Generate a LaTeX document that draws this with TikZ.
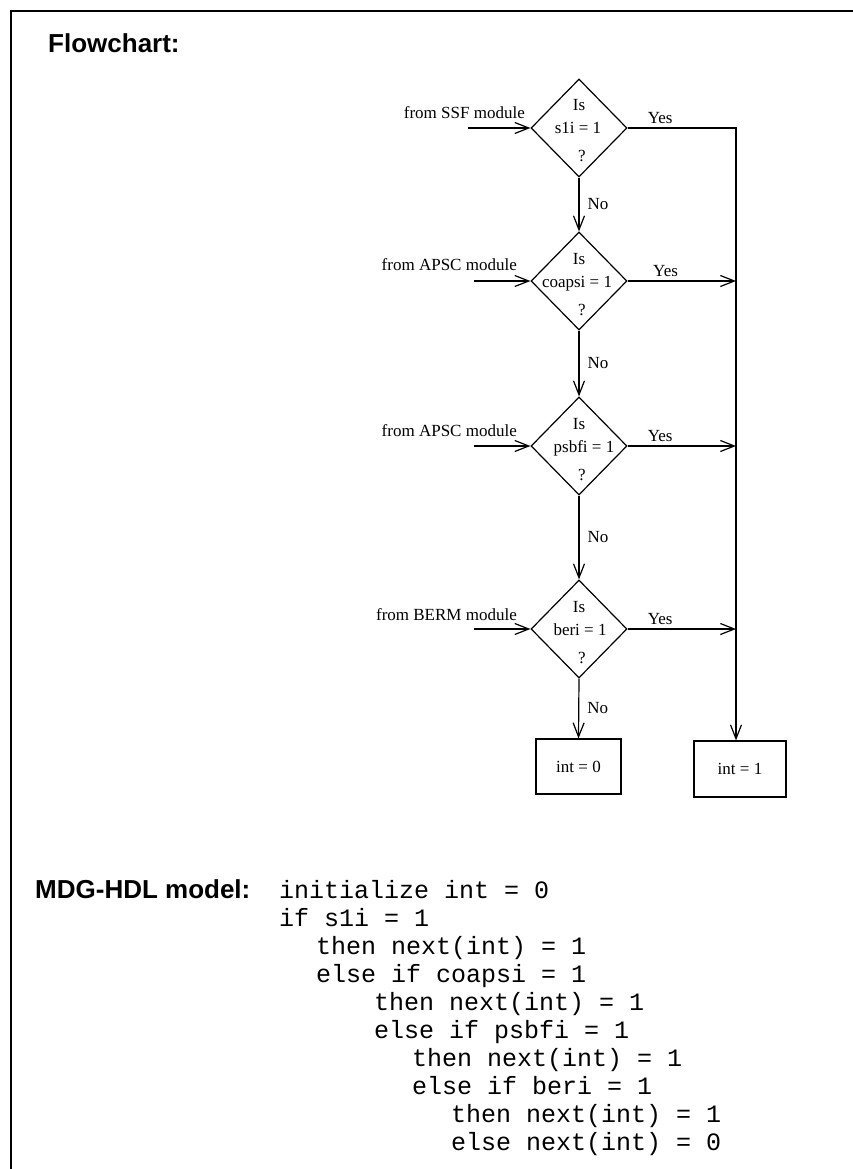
\documentclass[tikz,border=0pt]{standalone}
\usepackage{fontspec}
\setmainfont{Liberation Serif}
\setsansfont{Liberation Sans}
\setmonofont{Liberation Mono}
\usetikzlibrary{arrows.meta,shapes.geometric,calc}
\tikzset{
  lbl/.style={font=\fontsize{17}{20}\selectfont, inner sep=0},
  dec/.style={diamond, draw, line width=1.2pt, minimum width=96pt, minimum height=98pt, inner sep=0},
  res/.style={rectangle, draw, line width=1.2pt, minimum width=85pt, minimum height=55pt, inner sep=0, font=\fontsize{17}{20}\selectfont},
  flow/.style={draw, line width=1.2pt, -{Straight Barb[length=14pt,width=11pt]}},
  head/.style={font=\fontsize{26}{30}\selectfont\sffamily\bfseries, inner sep=0, anchor=base west},
  code/.style={font=\fontsize{25}{28}\selectfont\ttfamily, inner sep=0, anchor=base west},
  frame/.style={line width=2pt}
}
\begin{document}
\begin{tikzpicture}[x=1pt,y=-1pt]
\useasboundingbox (0,0) rectangle (853,1169);
% frame
\coordinate (fa) at (10.5,1169);
\coordinate (fb) at (10.5,11);
\coordinate (fc) at (853,11);
\draw[frame] (fa) -- (fb) -- (fc);

\node[head] (title) at (48,53) {Flowchart:};

% decisions
\node[dec] (d1) at (579,128) {};
\node[dec] (d2) at (579,281) {};
\node[dec] (d3) at (579,446) {};
\node[dec] (d4) at (579,629) {};
\node[res] (b0) at (578.5,766.5) {int = 0};
\node[res, minimum width=92pt, minimum height=56pt] (b1) at (740,769) {int = 1};

% texts in diamonds
\foreach \d/\t/\dx in {d1/s1i = 1/-1, d2/coapsi = 1/-2, d3/psbfi = 1/5, d4/beri = 1/1} {
  \node[lbl, anchor=base] (\d-is) at ($(\d)+(0,-17)$) {Is};
  \node[lbl, anchor=base] (\d-eq) at ($(\d)+(\dx,6)$) {\t};
  \node[lbl, anchor=base] (\d-q) at ($(\d)+(3,34)$) {?};
}

% inputs
\coordinate (i1) at (468,128);
\coordinate (i2) at (474,281);
\coordinate (i3) at (474,446);
\coordinate (i4) at (474,629);
\node[lbl, anchor=base east] (t1) at (525,119) {from SSF module};
\node[lbl, anchor=base east] (t2) at (517,270) {from APSC module};
\node[lbl, anchor=base east] (t3) at (517,436) {from APSC module};
\node[lbl, anchor=base east] (t4) at (517,620) {from BERM module};
\draw[flow] (i1) -- (d1.west);
\draw[flow] (i2) -- (d2.west);
\draw[flow] (i3) -- (d3.west);
\draw[flow] (i4) -- (d4.west);

% yes branches
\coordinate (c1) at (736,128);
\draw[flow] (d1.east) -- node[lbl, above=4pt, pos=0.3] (y1) {Yes} (c1) -- (c1 |- b1.north);
\draw[flow] (d2.east) -- node[lbl, above=4pt, pos=0.35] (y2) {Yes} (d2.east -| c1);
\draw[flow] (d3.east) -- node[lbl, above=4pt, pos=0.3] (y3) {Yes} (d3.east -| c1);
\draw[flow] (d4.east) -- node[lbl, above=4pt, pos=0.3] (y4) {Yes} (d4.east -| c1);

% no branches
\draw[flow] (d1.south) -- node[lbl, right=8pt] (n1) {No} (d2.north);
\draw[flow] (d2.south) -- node[lbl, right=8pt] (n2) {No} (d3.north);
\draw[flow] (d3.south) -- node[lbl, right=8pt] (n3) {No} (d4.north);
\draw[flow] (d4.south) -- node[lbl, right=8pt] (n4) {No} (b0.north);

% MDG-HDL model
\node[head] (mdg) at (35,898) {MDG-HDL model:};
\foreach \i/\x/\t in {1/279/initialize int = 0, 2/279/if s1i = 1, 3/316/then next(int) = 1, 4/316/else if coapsi = 1, 5/374/then next(int) = 1, 6/374/else if psbfi = 1, 7/412/then next(int) = 1, 8/412/else if beri = 1, 9/451/then next(int) = 1, 10/451/else next(int) = 0} {
  \node[code] (code\i) at (\x,{898+28*(\i-1)}) {\t};
}
\end{tikzpicture}
\end{document}
